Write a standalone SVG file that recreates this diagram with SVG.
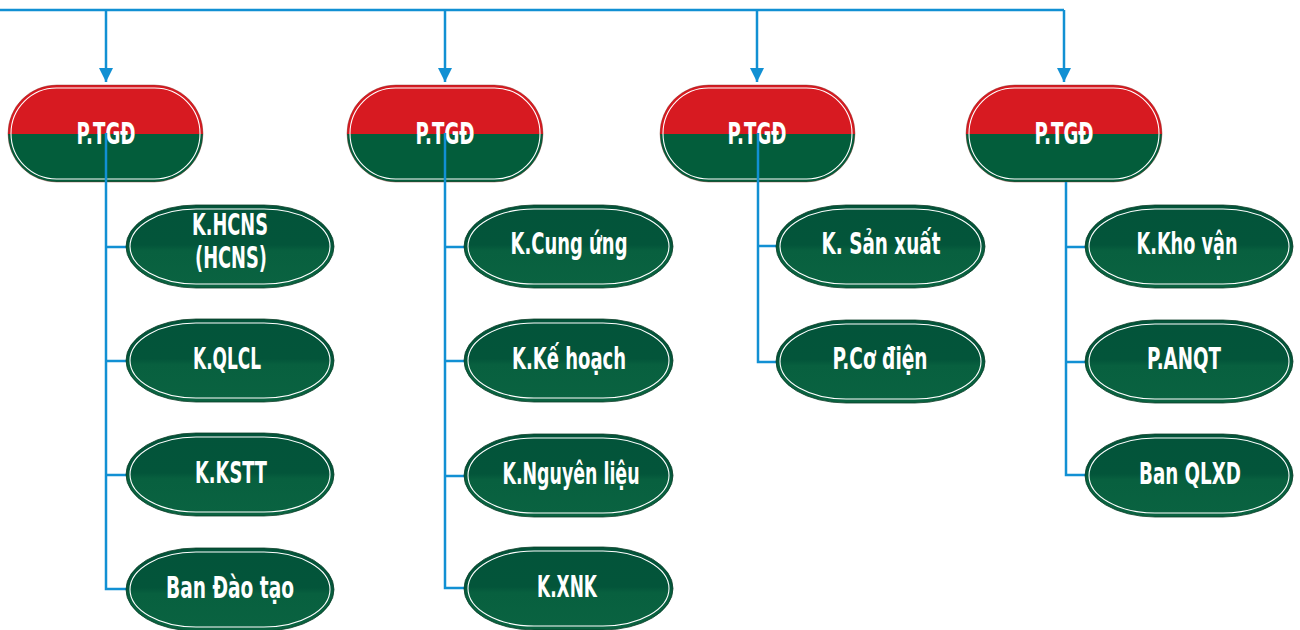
<svg xmlns="http://www.w3.org/2000/svg" width="1300" height="630" viewBox="0 0 1300 630">
  <defs>
    <linearGradient id="gTop" x1="0" y1="0" x2="0" y2="1">
      <stop offset="0" stop-color="#d71a21"/>
      <stop offset="0.5" stop-color="#d71a21"/>
      <stop offset="0.5" stop-color="#035d3b"/>
      <stop offset="1" stop-color="#035d3b"/>
    </linearGradient>
    <linearGradient id="gChild" x1="0" y1="0" x2="0" y2="1">
      <stop offset="0" stop-color="#03543a"/>
      <stop offset="0.48" stop-color="#03553a"/>
      <stop offset="0.55" stop-color="#08603f"/>
      <stop offset="1" stop-color="#0a6341"/>
    </linearGradient>
    <marker id="arr" viewBox="0 0 14 14" refX="14" refY="7" markerWidth="14" markerHeight="14" orient="auto" markerUnits="userSpaceOnUse">
      <path d="M0,0 L14,7 L0,14 z" fill="#1190d3"/>
    </marker>
  </defs>
  <style>
    .top { fill: url(#gTop); stroke: #7a2a20; stroke-width: 0.8; stroke-opacity: 0.5; }
    .child { fill: url(#gChild); stroke: #0b3d27; stroke-width: 0.8; }
    .inner { fill: none; stroke: #ffffff; stroke-width: 1.1; }
    .lbl { font-family: "Liberation Sans Narrow", "DejaVu Sans Condensed", "Liberation Sans", sans-serif; font-weight: bold; font-size: 30px; fill: #ffffff; text-anchor: middle; }
    .wire { fill: none; stroke: #1190d3; stroke-width: 2.5; }
  </style>

  <!-- top nodes -->
  <g id="ptgd1">
    <rect class="top" x="8" y="85" width="195" height="97" rx="48.5"/>
    <rect class="inner" x="11" y="88" width="189" height="91" rx="45.5"/>
    <text class="lbl" x="106" y="144" textLength="59" lengthAdjust="spacingAndGlyphs">P.TGĐ</text>
  </g>
  <g id="ptgd2">
    <rect class="top" x="347" y="85" width="196" height="97" rx="48.5"/>
    <rect class="inner" x="350" y="88" width="190" height="91" rx="45.5"/>
    <text class="lbl" x="445" y="144" textLength="59" lengthAdjust="spacingAndGlyphs">P.TGĐ</text>
  </g>
  <g id="ptgd3">
    <rect class="top" x="660" y="85" width="195" height="97" rx="48.5"/>
    <rect class="inner" x="663" y="88" width="189" height="91" rx="45.5"/>
    <text class="lbl" x="757" y="144" textLength="59" lengthAdjust="spacingAndGlyphs">P.TGĐ</text>
  </g>
  <g id="ptgd4">
    <rect class="top" x="966" y="85" width="196" height="97" rx="48.5"/>
    <rect class="inner" x="969" y="88" width="190" height="91" rx="45.5"/>
    <text class="lbl" x="1064" y="144" textLength="59" lengthAdjust="spacingAndGlyphs">P.TGĐ</text>
  </g>

  <!-- connectors -->
  <g id="connectors" class="wire">
    <path d="M0,10 H1064"/>
    <path d="M106,10 V82" marker-end="url(#arr)"/>
    <path d="M445,10 V82" marker-end="url(#arr)"/>
    <path d="M757,10 V82" marker-end="url(#arr)"/>
    <path d="M1064,10 V82" marker-end="url(#arr)"/>
    <path d="M106,133 V589 H128 M106,247 H128 M106,361 H128 M106,475 H128"/>
    <path d="M445,133 V588 H466 M445,247 H466 M445,361 H466 M445,476 H466"/>
    <path d="M758,133 V362 H778 M758,246 H778"/>
    <path d="M1066,182 V475 H1087 M1066,247 H1087 M1066,362 H1087"/>
  </g>

  <!-- column 1 -->
  <g id="khcns">
    <rect class="child" x="126" y="205" width="208" height="83" rx="70" ry="41.5"/>
    <rect class="inner" x="130" y="209" width="200" height="75" rx="66" ry="37.5"/>
    <text class="lbl" x="230" y="235" textLength="76" lengthAdjust="spacingAndGlyphs">K.HCNS</text>
    <text class="lbl" x="231" y="268" textLength="72" lengthAdjust="spacingAndGlyphs">(HCNS)</text>
  </g>
  <g id="kqlcl">
    <rect class="child" x="126" y="319" width="208" height="83" rx="70" ry="41.5"/>
    <rect class="inner" x="130" y="323" width="200" height="75" rx="66" ry="37.5"/>
    <text class="lbl" x="227" y="369" textLength="68" lengthAdjust="spacingAndGlyphs">K.QLCL</text>
  </g>
  <g id="kkstt">
    <rect class="child" x="126" y="433" width="208" height="83" rx="70" ry="41.5"/>
    <rect class="inner" x="130" y="437" width="200" height="75" rx="66" ry="37.5"/>
    <text class="lbl" x="231" y="483" textLength="72" lengthAdjust="spacingAndGlyphs">K.KSTT</text>
  </g>
  <g id="bandaotao">
    <rect class="child" x="126" y="548" width="208" height="83" rx="70" ry="41.5"/>
    <rect class="inner" x="130" y="552" width="200" height="75" rx="66" ry="37.5"/>
    <text class="lbl" x="230" y="598" textLength="128" lengthAdjust="spacingAndGlyphs">Ban Đào tạo</text>
  </g>

  <!-- column 2 -->
  <g id="kcungung">
    <rect class="child" x="464" y="205" width="209" height="83" rx="70" ry="41.5"/>
    <rect class="inner" x="468" y="209" width="201" height="75" rx="66" ry="37.5"/>
    <text class="lbl" x="569" y="254" textLength="117" lengthAdjust="spacingAndGlyphs">K.Cung ứng</text>
  </g>
  <g id="kkehoach">
    <rect class="child" x="464" y="319" width="209" height="83" rx="70" ry="41.5"/>
    <rect class="inner" x="468" y="323" width="201" height="75" rx="66" ry="37.5"/>
    <text class="lbl" x="569" y="369" textLength="114" lengthAdjust="spacingAndGlyphs">K.Kế hoạch</text>
  </g>
  <g id="knguyenlieu">
    <rect class="child" x="464" y="434" width="209" height="83" rx="70" ry="41.5"/>
    <rect class="inner" x="468" y="438" width="201" height="75" rx="66" ry="37.5"/>
    <text class="lbl" x="571" y="484" textLength="137" lengthAdjust="spacingAndGlyphs">K.Nguyên liệu</text>
  </g>
  <g id="kxnk">
    <rect class="child" x="464" y="547" width="209" height="83" rx="70" ry="41.5"/>
    <rect class="inner" x="468" y="551" width="201" height="75" rx="66" ry="37.5"/>
    <text class="lbl" x="567" y="597" textLength="60" lengthAdjust="spacingAndGlyphs">K.XNK</text>
  </g>

  <!-- column 3 -->
  <g id="ksanxuat">
    <rect class="child" x="776" y="205" width="209" height="83" rx="70" ry="41.5"/>
    <rect class="inner" x="780" y="209" width="201" height="75" rx="66" ry="37.5"/>
    <text class="lbl" x="881" y="254" textLength="119" lengthAdjust="spacingAndGlyphs">K. Sản xuất</text>
  </g>
  <g id="pcodien">
    <rect class="child" x="776" y="320" width="209" height="83" rx="70" ry="41.5"/>
    <rect class="inner" x="780" y="324" width="201" height="75" rx="66" ry="37.5"/>
    <text class="lbl" x="880" y="369" textLength="95" lengthAdjust="spacingAndGlyphs">P.Cơ điện</text>
  </g>

  <!-- column 4 -->
  <g id="kkhovan">
    <rect class="child" x="1085" y="205" width="208" height="83" rx="70" ry="41.5"/>
    <rect class="inner" x="1089" y="209" width="200" height="75" rx="66" ry="37.5"/>
    <text class="lbl" x="1187" y="254" textLength="101" lengthAdjust="spacingAndGlyphs">K.Kho vận</text>
  </g>
  <g id="panqt">
    <rect class="child" x="1085" y="320" width="208" height="83" rx="70" ry="41.5"/>
    <rect class="inner" x="1089" y="324" width="200" height="75" rx="66" ry="37.5"/>
    <text class="lbl" x="1184" y="369" textLength="74" lengthAdjust="spacingAndGlyphs">P.ANQT</text>
  </g>
  <g id="banqlxd">
    <rect class="child" x="1085" y="434" width="208" height="83" rx="70" ry="41.5"/>
    <rect class="inner" x="1089" y="438" width="200" height="75" rx="66" ry="37.5"/>
    <text class="lbl" x="1190" y="484" textLength="102" lengthAdjust="spacingAndGlyphs">Ban QLXD</text>
  </g>
</svg>
